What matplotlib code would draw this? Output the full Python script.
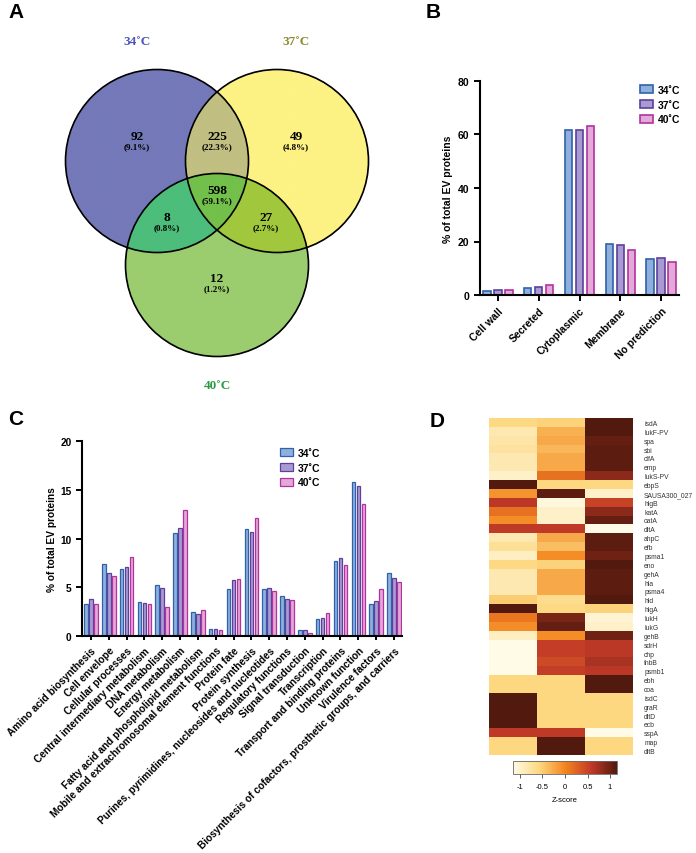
import numpy as np
import matplotlib
matplotlib.use("Agg")
import matplotlib.pyplot as plt
from matplotlib.patches import Circle
from matplotlib.colors import LinearSegmentedColormap, to_rgba

plt.rcParams['font.family'] = ['Liberation Sans', 'DejaVu Sans']

W, H = 696, 854

# ---- data ----
temps = ["34˚C", "37˚C", "40˚C"]

venn_counts = {"100": 92, "010": 49, "001": 12, "110": 225, "101": 8, "011": 27, "111": 598}
venn_pct = {"100": "9.1%", "010": "4.8%", "001": "1.2%", "110": "22.3%", "101": "0.8%",
            "011": "2.7%", "111": "59.1%"}

loc_cats = ["Cell wall", "Secreted", "Cytoplasmic", "Membrane", "No prediction"]
loc_34 = [1.5, 2.7, 61.7, 19.2, 13.3]
loc_37 = [1.7, 3.1, 61.6, 18.6, 13.7]
loc_40 = [2.0, 3.9, 63.2, 16.8, 12.5]

func_cats = ["Amino acid biosynthesis", "Cell envelope", "Cellular processes",
             "Central intermediary metabolism", "DNA metabolism", "Energy metabolism",
             "Fatty acid and phospholipid metabolism",
             "Mobile and extrachromosomal element functions", "Protein fate",
             "Protein synthesis", "Purines, pyrimidines, nucleosides and nucleotides",
             "Regulatory functions", "Signal transduction", "Transcription",
             "Transport and binding proteins", "Unknown function", "Virulence factors",
             "Biosynthesis of cofactors, prosthetic groups, and carriers"]
func_34 = [3.25, 7.36, 6.85, 3.49, 5.2, 10.55, 2.5, 0.75, 4.8, 10.96, 4.8, 4.1, 0.65, 1.71, 7.7, 15.75, 3.25, 6.5]
func_37 = [3.77, 6.44, 7.12, 3.36, 4.9, 11.03, 2.23, 0.68, 5.72, 10.68, 4.9, 3.77, 0.65, 1.88, 8.01, 15.38, 3.6, 6.0]
func_40 = [3.25, 6.2, 8.08, 3.25, 2.95, 12.9, 2.64, 0.6, 5.89, 12.09, 4.66, 3.73, 0.27, 2.33, 7.29, 13.49, 4.8, 5.58]

genes = ["isdA", "lukF-PV", "spa", "sbi", "clfA", "emp", "lukS-PV", "ebpS", "SAUSA300_027",
         "hlgB", "katA", "oatA", "dltA", "ahpC", "efb", "psma1", "eno", "gehA", "hla", "psma4",
         "hld", "hlgA", "lukH", "lukG", "gehB", "sdrH", "chp", "fnbB", "psmb1", "ebh", "coa",
         "isdC", "graR", "dltD", "ecb", "sspA", "map", "dltB"]
zscores = [
    [-0.60, -0.55, 1.15], [-0.85, -0.30, 1.15], [-0.80, -0.25, 1.05], [-0.75, -0.35, 1.10],
    [-0.85, -0.25, 1.10], [-0.85, -0.25, 1.10], [-1.00, 0.15, 0.85], [1.15, -0.58, -0.58],
    [-0.10, 1.10, -1.00], [0.60, -1.10, 0.50], [0.15, -1.00, 0.85], [-0.05, -1.00, 1.05],
    [0.58, 0.58, -1.15], [-0.85, -0.25, 1.10], [-0.70, -0.40, 1.10], [-0.95, -0.05, 1.00],
    [-0.60, -0.55, 1.15], [-0.85, -0.25, 1.10], [-0.85, -0.25, 1.10], [-0.85, -0.25, 1.10],
    [-0.50, -0.65, 1.15], [1.15, -0.60, -0.55], [0.10, 0.95, -1.05], [-0.05, 1.05, -1.00],
    [-0.95, -0.05, 1.00], [-1.15, 0.55, 0.60], [-1.15, 0.55, 0.60], [-1.15, 0.45, 0.70],
    [-1.15, 0.55, 0.60], [-0.58, -0.58, 1.15], [-0.58, -0.58, 1.15], [1.15, -0.58, -0.58],
    [1.15, -0.58, -0.58], [1.15, -0.58, -0.58], [1.15, -0.58, -0.58], [0.58, 0.58, -1.15],
    [-0.58, 1.15, -0.58], [-0.58, 1.15, -0.58]]

faces = ["#8fb0dc", "#a99bd1", "#e2a9d9"]
edges = ["#2f62ab", "#5d3f9e", "#b3329f"]


def px_axes(l, t, r, b):
    return fig.add_axes([l / W, 1 - b / H, (r - l) / W, (b - t) / H])


fig = plt.figure(figsize=(W / 100, H / 100), dpi=100)

# ---- A: Venn ----
axA = px_axes(0, 0, 420, 400)
axA.set_xlim(0, 420)
axA.set_ylim(400, 0)
axA.axis("off")
centers = [(157, 162), (277, 162), (217, 266)]
rad = 91.5
region_cols = {"100": "#7479b9", "010": "#fdf284", "001": "#9bcd6f", "110": "#c1bf82",
               "101": "#4dbd7b", "011": "#a1c83d", "111": "#73c04b"}
xs = np.linspace(60, 375, 1000)
ys = np.linspace(65, 365, 950)
gx, gy = np.meshgrid(xs, ys)
inside = [((gx - cx) ** 2 + (gy - cy) ** 2) <= rad ** 2 for cx, cy in centers]
img = np.zeros(gx.shape + (4,))
for key, col in region_cols.items():
    m = np.ones(gx.shape, bool)
    for i, ch in enumerate(key):
        m &= inside[i] if ch == "1" else ~inside[i]
    img[m] = to_rgba(col)
axA.imshow(img, extent=(60, 375, 365, 65), origin="upper", interpolation="bilinear", aspect="auto")
for c in centers:
    axA.add_patch(Circle(c, rad, fill=False, lw=1.2, ec="black"))
txt_pos = {"100": (137, 137), "110": (217, 137), "010": (296, 137), "111": (217, 191),
           "101": (167, 218), "011": (266, 218), "001": (217, 279)}
serif = ["Liberation Serif", "DejaVu Serif"]
for key, (tx, ty) in txt_pos.items():
    axA.text(tx, ty, str(venn_counts[key]), ha="center", va="center", fontsize=9.5,
             fontweight="bold", family=serif)
    axA.text(tx, ty + 10, "(" + venn_pct[key] + ")", ha="center", va="center", fontsize=6.5,
             fontweight="bold", family=serif)
axA.text(137, 42, temps[0], color="#4b55b5", ha="center", va="center", fontsize=9.5,
         fontweight="bold", family=serif)
axA.text(296, 42, temps[1], color="#8c8a2e", ha="center", va="center", fontsize=9.5,
         fontweight="bold", family=serif)
axA.text(217, 386, temps[2], color="#2c9a45", ha="center", va="center", fontsize=9.5,
         fontweight="bold", family=serif)


def style_bar_axes(ax, fs):
    for s in ["top", "right"]:
        ax.spines[s].set_visible(False)
    for s in ["left", "bottom"]:
        ax.spines[s].set_linewidth(1.5)
    ax.tick_params(width=1.4, length=4, labelsize=fs)
    for lab in ax.get_xticklabels() + ax.get_yticklabels():
        lab.set_fontweight("bold")


# ---- B: localisation ----
axB = px_axes(480, 82, 679, 296)
xb = np.arange(len(loc_cats))
for i, vals in enumerate([loc_34, loc_37, loc_40]):
    axB.bar(xb + (i - 1) * 0.27, vals, 0.18, color=faces[i], edgecolor=edges[i],
            linewidth=1.2, label=temps[i])
axB.set_xlim(-0.44, 4.44)
axB.set_ylim(0, 80)
axB.set_yticks([0, 20, 40, 60, 80])
axB.set_xticks(xb)
axB.set_xticklabels(loc_cats, rotation=45, ha="right", rotation_mode="anchor")
axB.set_ylabel("% of total EV proteins", fontsize=7.5, fontweight="bold")
axB.yaxis.set_label_coords(-27 / 199, 0.5)
style_bar_axes(axB, 7.5)
axB.legend(loc="upper left", bbox_to_anchor=((640 - 480) / 199, 1 - 4 / 214), frameon=False,
           prop={"size": 7.5, "weight": "bold"}, handlelength=1.2, handleheight=0.8,
           labelspacing=0.45, handletextpad=0.5, borderpad=0, borderaxespad=0)

# ---- C: functional categories ----
axC = px_axes(82, 442, 402, 637)
xc = np.arange(len(func_cats))
for i, vals in enumerate([func_34, func_37, func_40]):
    axC.bar(xc + (i - 1) * 0.28, vals, 0.2, color=faces[i], edgecolor=edges[i],
            linewidth=0.9, label=temps[i])
axC.set_xlim(-0.5, 17.45)
axC.set_ylim(0, 20)
axC.set_yticks([0, 5, 10, 15, 20])
axC.set_xticks(xc)
axC.set_xticklabels(func_cats, rotation=45, ha="right", rotation_mode="anchor")
axC.set_ylabel("% of total EV proteins", fontsize=7.3, fontweight="bold")
axC.yaxis.set_label_coords(-25 / 320, 0.5)
style_bar_axes(axC, 7.3)
axC.tick_params(axis="x", length=3)
axC.legend(loc="upper left", bbox_to_anchor=((280 - 82) / 320, 1 - 7 / 195), frameon=False,
           prop={"size": 7.5, "weight": "bold"}, handlelength=1.2, handleheight=0.8,
           labelspacing=0.45, handletextpad=0.5, borderpad=0, borderaxespad=0)

# ---- D: heatmap ----
cmap = LinearSegmentedColormap.from_list(
    "zs", [(0, "#fffbe6"), (0.25, "#fdd880"), (0.5, "#f4851f"), (0.75, "#c13a28"), (1, "#521a0e")])
axD = px_axes(489, 419, 633, 756)
im = axD.imshow(np.array(zscores), aspect="auto", cmap=cmap, vmin=-1.155, vmax=1.155,
                interpolation="nearest")
axD.set_xticks([])
axD.yaxis.tick_right()
axD.set_yticks(np.arange(len(genes)))
axD.set_yticklabels(genes, fontsize=4.9, color="#333333")
axD.tick_params(axis="y", length=0, pad=8)
for s in axD.spines.values():
    s.set_visible(False)

cax = px_axes(513, 762, 617, 775)
cb = fig.colorbar(im, cax=cax, orientation="horizontal", ticks=[-1, -0.5, 0, 0.5, 1])
cb.ax.set_xticklabels(["-1", "-0.5", "0", "0.5", "1"])
cb.ax.tick_params(labelsize=5.5, length=3, width=0.6, color="#444444")
cb.outline.set_linewidth(0.6)
cb.outline.set_edgecolor("#666666")
cb.set_label("Z-score", fontsize=5.5)

# panel letters
for letter, (lx, ly) in {"A": (8, 12), "B": (426, 12), "C": (8, 420), "D": (430, 422)}.items():
    fig.text(lx / W, 1 - ly / H, letter, fontsize=15, fontweight="bold", ha="left", va="center")

fig.savefig("out.png", dpi=100)
